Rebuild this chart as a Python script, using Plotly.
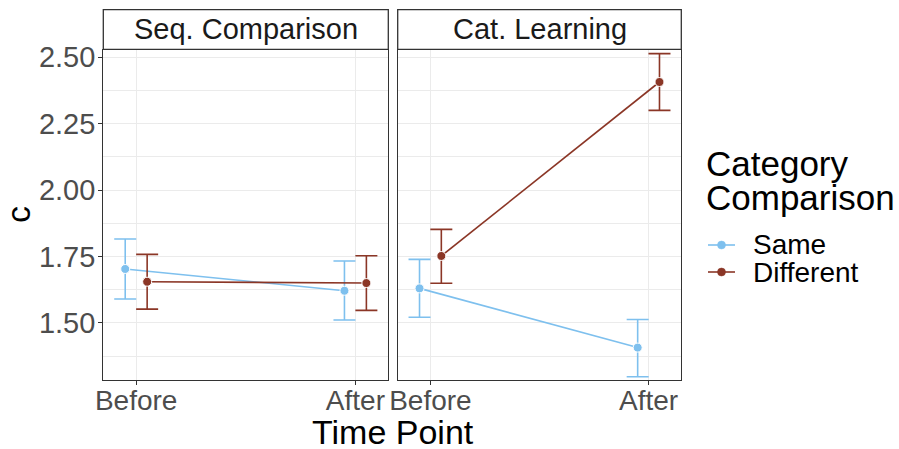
import plotly.graph_objects as go

W, H = 899, 449

# ---------------- data ----------------
panels = ["Seq. Comparison", "Cat. Learning"]
time_labels = ["Before", "After"]
groups = ["Same", "Different"]

seq_same_mean = [1.703, 1.621]
seq_same_lo = [1.590, 1.511]
seq_same_hi = [1.816, 1.733]
seq_diff_mean = [1.655, 1.650]
seq_diff_lo = [1.552, 1.547]
seq_diff_hi = [1.758, 1.753]

cat_same_mean = [1.630, 1.407]
cat_same_lo = [1.521, 1.297]
cat_same_hi = [1.739, 1.513]
cat_diff_mean = [1.752, 2.407]
cat_diff_lo = [1.649, 2.300]
cat_diff_hi = [1.852, 2.514]

y_ticks = [1.50, 1.75, 2.00, 2.25, 2.50]
y_tick_labels = ["1.50", "1.75", "2.00", "2.25", "2.50"]
y_minor = [1.375, 1.625, 1.875, 2.125, 2.375]

colors = {"Same": "#7EC0EE", "Different": "#8B3626"}
dodge = {"Same": -0.05, "Different": 0.05}

data = {
    ("Seq. Comparison", "Same"): (seq_same_mean, seq_same_lo, seq_same_hi),
    ("Seq. Comparison", "Different"): (seq_diff_mean, seq_diff_lo, seq_diff_hi),
    ("Cat. Learning", "Same"): (cat_same_mean, cat_same_lo, cat_same_hi),
    ("Cat. Learning", "Different"): (cat_diff_mean, cat_diff_lo, cat_diff_hi),
}

FONT = "Liberation Sans, Arial, Helvetica, sans-serif"
BORDER = "#333333"
GRID = "#EBEBEB"

fig = go.Figure()
xbase = [i + 1 for i in range(len(time_labels))]
for pi, panel in enumerate(panels):
    xa = "x" if pi == 0 else "x2"
    ya = "y" if pi == 0 else "y2"
    for g in groups:
        mean, lo, hi = data[(panel, g)]
        fig.add_trace(go.Scatter(
            x=[b + dodge[g] for b in xbase], y=mean,
            mode="lines+markers",
            line=dict(color=colors[g], width=1.6),
            marker=dict(size=9, color=colors[g], line=dict(color="white", width=1)),
            error_y=dict(type="data", symmetric=False,
                         array=[h - m for h, m in zip(hi, mean)],
                         arrayminus=[m - l for m, l in zip(mean, lo)],
                         color=colors[g], thickness=1.6, width=11),
            xaxis=xa, yaxis=ya, showlegend=False, name=g, hoverinfo="skip",
        ))

px_x = lambda p: p / W
px_y = lambda p: 1 - p / H

panel_x = [(103.3, 388.3), (397.7, 681.3)]
panel_y = (50.0, 380.0)
strip_y = (9.7, 49.3)

common_x = dict(range=[0.85, 2.15], tickmode="array", tickvals=xbase, ticktext=time_labels,
                showgrid=True, gridcolor=GRID, gridwidth=1.3, zeroline=False, automargin=False,
                showline=True, linecolor=BORDER, linewidth=1.3, mirror=True,
                ticks="outside", ticklen=4, tickwidth=1.2, tickcolor=BORDER,
                ticklabelstandoff=-9,
                tickfont=dict(family=FONT, size=28, color="#4D4D4D"))
common_y = dict(range=[1.285, 2.5275], tickmode="array", tickvals=y_ticks, ticktext=y_tick_labels,
                showgrid=True, gridcolor=GRID, gridwidth=1.3, zeroline=False, automargin=False,
                showline=True, linecolor=BORDER, linewidth=1.3, mirror=True,
                minor=dict(tickmode="array", tickvals=y_minor, showgrid=True, gridcolor=GRID,
                           gridwidth=0.7, ticks=""),
                domain=[px_y(panel_y[1]), px_y(panel_y[0])])

fig.update_layout(
    width=W, height=H,
    margin=dict(l=0, r=0, t=0, b=0, autoexpand=False),
    paper_bgcolor="white", plot_bgcolor="white",
    font=dict(family=FONT),
    xaxis=dict(domain=[px_x(panel_x[0][0]), px_x(panel_x[0][1])], anchor="y", **common_x),
    xaxis2=dict(domain=[px_x(panel_x[1][0]), px_x(panel_x[1][1])], anchor="y2", **common_x),
    yaxis=dict(anchor="x", ticks="outside", ticklen=4, tickwidth=1.2, tickcolor=BORDER,
               ticklabelstandoff=-3,
               tickfont=dict(family=FONT, size=29, color="#4D4D4D"), **common_y),
    yaxis2=dict(anchor="x2", matches="y", showticklabels=False, ticks="", **common_y),
)

shapes = []
annotations = []
for pi, panel in enumerate(panels):
    x0, x1 = panel_x[pi]
    shapes.append(dict(type="rect", xref="paper", yref="paper",
                       x0=px_x(x0), x1=px_x(x1), y0=px_y(strip_y[1]), y1=px_y(strip_y[0]),
                       fillcolor="white", line=dict(color=BORDER, width=1.3)))
    annotations.append(dict(text=panel, xref="paper", yref="paper",
                            x=px_x((x0 + x1) / 2), y=px_y((strip_y[0] + strip_y[1]) / 2),
                            xanchor="center", yanchor="middle", showarrow=False,
                            font=dict(family=FONT, size=29, color="#1A1A1A")))

# axis titles
annotations.append(dict(text="Time Point", xref="paper", yref="paper",
                        x=px_x(393), y=px_y(432), xanchor="center", yanchor="middle",
                        showarrow=False, font=dict(family=FONT, size=34, color="black")))
annotations.append(dict(text="c", xref="paper", yref="paper", textangle=-90,
                        x=px_x(18), y=px_y(215), xanchor="center", yanchor="middle",
                        showarrow=False, font=dict(family=FONT, size=34, color="black")))

# legend (drawn manually)
annotations.append(dict(text="Category", xref="paper", yref="paper",
                        x=px_x(704), y=px_y(163), xanchor="left", yanchor="middle",
                        showarrow=False, font=dict(family=FONT, size=35, color="black")))
annotations.append(dict(text="Comparison", xref="paper", yref="paper",
                        x=px_x(704), y=px_y(198), xanchor="left", yanchor="middle",
                        showarrow=False, font=dict(family=FONT, size=35, color="black")))
leg_y = {"Same": 245, "Different": 272}
for g in groups:
    yy = leg_y[g]
    shapes.append(dict(type="line", xref="paper", yref="paper",
                       x0=px_x(708), x1=px_x(735), y0=px_y(yy), y1=px_y(yy),
                       line=dict(color=colors[g], width=1.6)))
    shapes.append(dict(type="circle", xref="paper", yref="paper",
                       x0=px_x(721.5 - 4), x1=px_x(721.5 + 4), y0=px_y(yy + 4), y1=px_y(yy - 4),
                       fillcolor=colors[g], line=dict(color=colors[g], width=0.5)))
    annotations.append(dict(text=g, xref="paper", yref="paper",
                            x=px_x(751), y=px_y(yy), xanchor="left", yanchor="middle",
                            showarrow=False, font=dict(family=FONT, size=28, color="black")))

fig.update_layout(shapes=shapes, annotations=annotations)
fig.write_html("out.html", config={"displayModeBar": False},
               post_script="document.body.style.margin='0';document.body.style.overflow='hidden';")
